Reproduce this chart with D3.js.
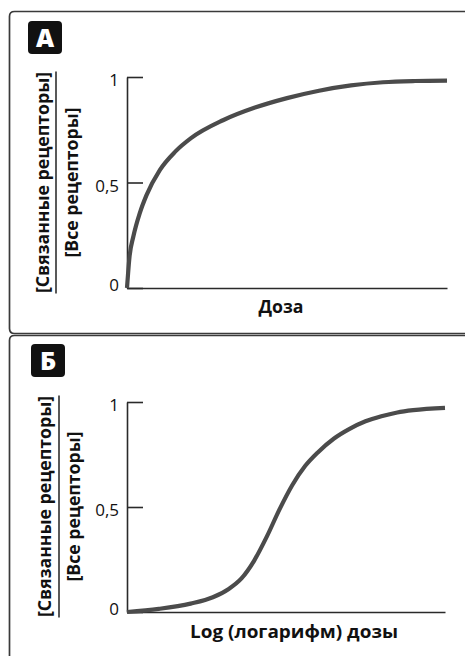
<!DOCTYPE html>
<html><head><meta charset="utf-8">
<script src="https://cdn.jsdelivr.net/npm/d3@7"></script>
<style>
html,body{margin:0;padding:0;background:#fff;}
svg{display:block;}
text{font-family:"Open Sans","Noto Sans",sans-serif;}
</style></head>
<body>
<svg id="chart" width="465" height="656"></svg>
<script>
// ---- data ----
const yTicks = [0, 0.5, 1];
const yTickLabels = ["0", "0,5", "1"];
// Panel A: dose (linear, arbitrary units) vs bound fraction
const doseA  = [0, 0.8, 2, 4, 6.1, 10.3, 15, 20, 30, 40, 50, 60, 70, 80, 90, 100];
const boundA = [0, 0.15, 0.245, 0.355, 0.44, 0.56, 0.645, 0.71, 0.795, 0.855, 0.90, 0.935, 0.96, 0.975, 0.981, 0.983];
// Panel B: log dose (arbitrary units) vs bound fraction
const logDoseB = [0, 1, 2, 2.7, 3.2, 3.6, 4.0, 4.4, 4.8, 5.2, 5.6, 6.0, 6.5, 7.0, 7.5, 8.0, 8.5, 9.0, 10];
const boundB   = [0, 0.015, 0.04, 0.07, 0.11, 0.16, 0.245, 0.36, 0.49, 0.605, 0.695, 0.76, 0.825, 0.872, 0.908, 0.932, 0.95, 0.961, 0.972];
const panelLetters = ["А", "Б"];
const yLabelTop = "[Связанные рецепторы]";
const yLabelBottom = "[Все рецепторы]";
const xLabels = ["Доза", "Log (логарифм) дозы"];

const svg = d3.select("#chart");
const frameColor = "#3a3a3a";
const axisColor = "#2a2a2a";
const curveColor = "#4b4b4b";

// ---- frames ----
const r = 5;
svg.append("path")
  .attr("d", `M470,11.5 H${9.5 + r} Q9.5,11.5 9.5,${11.5 + r} V${333.5 - r} Q9.5,333.5 ${9.5 + r},333.5 H470`)
  .attr("fill", "none").attr("stroke", frameColor).attr("stroke-width", 1.7);
svg.append("path")
  .attr("d", `M470,335.5 H${9.5 + r} Q9.5,335.5 9.5,${335.5 + r} V670`)
  .attr("fill", "none").attr("stroke", frameColor).attr("stroke-width", 1.7);

function panel(cfg) {
  const g = svg.append("g");
  // letter box
  g.append("rect").attr("x", cfg.box[0]).attr("y", cfg.box[1])
    .attr("width", 34).attr("height", 33).attr("rx", 4).attr("fill", "#111");
  g.append("text").attr("x", cfg.box[0] + 17).attr("y", cfg.box[1] + 26)
    .attr("text-anchor", "middle").attr("fill", "#fff")
    .attr("font-weight", 800).attr("font-size", 25).text(cfg.letter);

  const x = d3.scaleLinear().domain(cfg.xDomain).range(cfg.xRange);
  const y = d3.scaleLinear().domain([0, 1]).range(cfg.yRange);

  // y axis
  const yAxis = d3.axisLeft(y).tickValues(yTicks)
    .tickFormat((d, i) => yTickLabels[i])
    .tickSizeInner(-16).tickSizeOuter(0).tickPadding(8);
  const ya = g.append("g").attr("transform", `translate(${cfg.xRange[0]},0)`).call(yAxis);
  ya.select(".domain").attr("stroke", axisColor).attr("stroke-width", 1.6);
  ya.selectAll(".tick line").attr("stroke", axisColor).attr("stroke-width", 1.6);
  ya.selectAll(".tick text").attr("font-size", 17).attr("fill", "#111")
    .attr("font-family", "'Open Sans','Noto Sans',sans-serif")
    .attr("dy", d => d === 0 ? "0.12em" : "0.52em");

  // x axis
  const xAxis = d3.axisBottom(x).tickValues([]).tickSizeOuter(0);
  const xa = g.append("g").attr("transform", `translate(0,${cfg.yRange[0]})`).call(xAxis);
  xa.select(".domain").attr("stroke", axisColor).attr("stroke-width", 1.6);

  // curve
  const pts = cfg.xs.map((v, i) => [v, cfg.ys[i]]);
  g.append("path").datum(pts)
    .attr("d", d3.line().x(d => x(d[0])).y(d => y(d[1])).curve(d3.curveMonotoneX))
    .attr("fill", "none").attr("stroke", curveColor).attr("stroke-width", 4.2);

  // x label
  g.append("text").attr("x", cfg.xLabelPos[0]).attr("y", cfg.xLabelPos[1])
    .attr("text-anchor", "middle").attr("font-weight", 700).attr("font-size", 17)
    .attr("fill", "#111").attr("textLength", cfg.xLabelLen).attr("lengthAdjust", "spacingAndGlyphs")
    .text(cfg.xLabel);

  // y label (fraction)
  const cy = cfg.yLabelCenter;
  g.append("text").attr("transform", `translate(${cfg.yl[0]},${cy}) rotate(-90)`)
    .attr("text-anchor", "middle").attr("font-weight", 700).attr("font-size", 17).attr("fill", "#111")
    .attr("textLength", 221).attr("lengthAdjust", "spacingAndGlyphs").text(yLabelTop);
  g.append("line").attr("x1", cfg.yl[1]).attr("x2", cfg.yl[1])
    .attr("y1", cy - 111).attr("y2", cy + 111).attr("stroke", "#222").attr("stroke-width", 1.5);
  g.append("text").attr("transform", `translate(${cfg.yl[2]},${cy}) rotate(-90)`)
    .attr("text-anchor", "middle").attr("font-weight", 700).attr("font-size", 17).attr("fill", "#111")
    .attr("textLength", 150).attr("lengthAdjust", "spacingAndGlyphs").text(yLabelBottom);
}

panel({
  letter: panelLetters[0], box: [28, 21],
  xDomain: [0, 100], xRange: [127, 447], yRange: [288, 77],
  xs: doseA, ys: boundA,
  xLabel: xLabels[0], xLabelPos: [281, 313], xLabelLen: 45,
  yLabelCenter: 182.5, yl: [49, 56, 78]
});
panel({
  letter: panelLetters[1], box: [31, 344],
  xDomain: [0, 10], xRange: [127, 445], yRange: [612, 402],
  xs: logDoseB, ys: boundB,
  xLabel: xLabels[1], xLabelPos: [294, 638], xLabelLen: 208,
  yLabelCenter: 506.5, yl: [51, 59, 80]
});
</script>
</body></html>
